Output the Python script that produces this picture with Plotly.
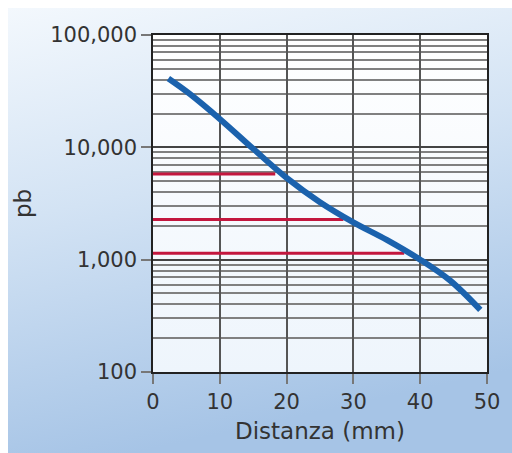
import base64
import plotly.graph_objects as go

# ---- data ----
distance_mm = [2.3, 5.5, 10, 15, 20, 25, 30, 35, 40, 44.5, 49]
pb_values = [41000, 29900, 17900, 9700, 5350, 3250, 2150, 1500, 1000, 650, 357]

ref_levels = [5800, 2280, 1140]
ref_ends_mm = [18.3, 28.5, 37.6]

y_tickvals = [100, 1000, 10000, 100000]
y_ticktext = ["100", "1,000", "10,000", "100,000"]
x_tickvals = [0, 10, 20, 30, 40, 50]

W, H = 512, 453
L, R, T, B = 153, 25, 35, 81
pw, ph = W - L - R, H - T - B

svg = f'''<svg xmlns="http://www.w3.org/2000/svg" width="{W}" height="{H}" viewBox="0 0 {W} {H}">
<defs>
<linearGradient id="g" x1="0" y1="0" x2="0.25" y2="1">
<stop offset="0" stop-color="#f3f8fd"/>
<stop offset="0.45" stop-color="#d3e3f4"/>
<stop offset="1" stop-color="#a6c4e6"/>
</linearGradient>
<linearGradient id="p" x1="0" y1="0" x2="0" y2="1">
<stop offset="0" stop-color="#ffffff"/>
<stop offset="1" stop-color="#eef5fc"/>
</linearGradient>
</defs>
<rect x="0" y="0" width="{W}" height="{H}" fill="#ffffff"/>
<rect x="8" y="8" width="{W-8}" height="{H-8}" fill="url(#g)"/>
<rect x="{L}" y="{T}" width="{pw}" height="{ph}" fill="url(#p)"/>
</svg>'''
src = "data:image/svg+xml;base64," + base64.b64encode(svg.encode()).decode()

fig = go.Figure()

for lvl, xe in zip(ref_levels, ref_ends_mm):
    fig.add_trace(go.Scatter(x=[0, xe], y=[lvl, lvl], mode="lines",
                             line=dict(color="#c3173e", width=3),
                             hoverinfo="skip", showlegend=False))

fig.add_trace(go.Scatter(x=distance_mm, y=pb_values, mode="lines",
                         line=dict(color="#1b62ad", width=6, shape="spline", smoothing=1.0),
                         showlegend=False))

font_family = "DejaVu Sans"
fig.update_layout(
    width=W, height=H,
    margin=dict(l=L, r=R, t=T, b=B, pad=0),
    paper_bgcolor="#ffffff",
    plot_bgcolor="rgba(0,0,0,0)",
    font=dict(family=font_family, color="#333333", size=21),
    images=[dict(source=src, xref="paper", yref="paper",
                 x=-L / pw, y=1 + T / ph, sizex=W / pw, sizey=H / ph,
                 xanchor="left", yanchor="top", sizing="stretch", layer="below")],
    xaxis=dict(
        range=[0, 50], tickvals=x_tickvals, ticks="outside", ticklen=10,
        tickcolor="#777777", tickwidth=1.5,
        showgrid=True, gridcolor="#555555", gridwidth=1.5,
        showline=True, linecolor="#222222", linewidth=1.5, mirror=True,
        zeroline=False,
        title=dict(text="Distanza (mm)", font=dict(size=23), standoff=10),
        tickfont=dict(size=21),
    ),
    yaxis=dict(
        type="log", range=[2, 5], tickvals=y_tickvals, ticktext=y_ticktext,
        ticks="outside", ticklen=10, tickcolor="#777777", tickwidth=1.5,
        showgrid=True, gridcolor="#444444", gridwidth=1.5,
        minor=dict(dtick="D1", showgrid=True, gridcolor="#808080", gridwidth=1.5, ticks=""),
        showline=True, linecolor="#222222", linewidth=1.5, mirror=True,
        zeroline=False,
        title=dict(text="pb", font=dict(size=23), standoff=12),
        tickfont=dict(size=21),
    ),
)

fig.write_html("out.html", config={"displayModeBar": False},
               post_script="document.body.style.margin='0';document.body.style.padding='0';")
